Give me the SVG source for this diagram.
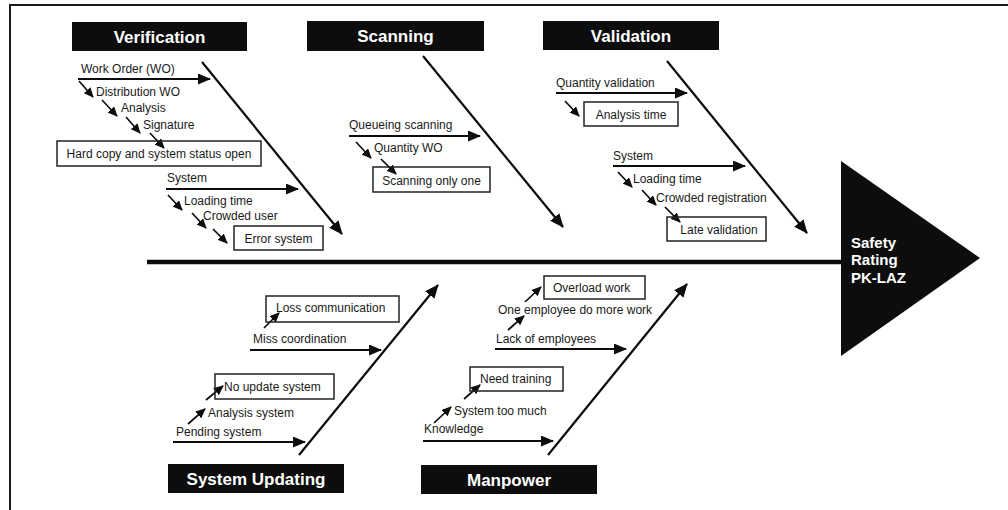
<svg xmlns="http://www.w3.org/2000/svg" width="1008" height="510" viewBox="0 0 1008 510">
<defs>
<style>
.hdr{fill:#0d0d0d}
.ht{font-family:"Liberation Sans",Arial,sans-serif;font-weight:bold;font-size:17px;fill:#fff;text-anchor:middle}
.t{font-family:"Liberation Sans",Arial,sans-serif;font-size:12px;fill:#1a1a1a}
.bt{font-family:"Liberation Sans",Arial,sans-serif;font-size:12px;fill:#1a1a1a;text-anchor:middle}
.box{fill:none;stroke:#222;stroke-width:1.5}
.bone{stroke:#0d0d0d;stroke-width:2.2;fill:none;marker-end:url(#big)}
.sub{stroke:#0d0d0d;stroke-width:2;fill:none;marker-end:url(#mid)}
.tw{stroke:#0d0d0d;stroke-width:1.7;fill:none;marker-end:url(#sm)}
.ft{font-family:"Liberation Sans",Arial,sans-serif;font-weight:bold;font-size:15px;fill:#fff}
</style>
<marker id="big" markerUnits="userSpaceOnUse" markerWidth="14" markerHeight="12" refX="13" refY="6" orient="auto"><path d="M0,0 L14,6 L0,12 z" fill="#0d0d0d"/></marker>
<marker id="mid" markerUnits="userSpaceOnUse" markerWidth="13" markerHeight="11" refX="12" refY="5.5" orient="auto"><path d="M0,0 L13,5.5 L0,11 z" fill="#0d0d0d"/></marker>
<marker id="sm" markerUnits="userSpaceOnUse" markerWidth="10" markerHeight="9" refX="9" refY="4.5" orient="auto"><path d="M0,0 L10,4.5 L0,9 z" fill="#0d0d0d"/></marker>
</defs>
<rect x="0" y="0" width="1008" height="510" fill="#fff"/>
<rect x="10" y="5" width="1010" height="520" fill="none" stroke="#1a1a1a" stroke-width="2"/>

<g id="connectors">
<line x1="147" y1="262" x2="845" y2="262" stroke="#0d0d0d" stroke-width="4.5"/>
<line class="bone" x1="202" y1="62" x2="342" y2="234"/>
<line class="bone" x1="423" y1="56" x2="563" y2="227"/>
<line class="bone" x1="667" y1="61" x2="807" y2="233"/>
<line class="bone" x1="299" y1="455" x2="438" y2="285"/>
<line class="bone" x1="548" y1="455" x2="687" y2="284"/>
<!-- Verification -->
<line class="sub" x1="78" y1="79" x2="210" y2="79"/>
<line class="tw" x1="79" y1="81" x2="93" y2="97"/>
<line class="tw" x1="102" y1="100" x2="117" y2="116"/>
<line class="tw" x1="126" y1="117" x2="140" y2="133"/>
<line class="tw" x1="150" y1="133" x2="164" y2="148"/>
<line class="sub" x1="166" y1="189" x2="298" y2="189"/>
<line class="tw" x1="168" y1="195" x2="182" y2="210"/>
<line class="tw" x1="192" y1="213" x2="206" y2="228"/>
<line class="tw" x1="213" y1="229" x2="227" y2="243"/>
<!-- Scanning -->
<line class="sub" x1="349" y1="136" x2="480" y2="136"/>
<line class="tw" x1="356" y1="142" x2="371" y2="158"/>
<line class="tw" x1="381" y1="159" x2="396" y2="174"/>
<!-- Validation -->
<line class="sub" x1="556" y1="93" x2="687" y2="93"/>
<line class="tw" x1="565" y1="101" x2="579" y2="116"/>
<line class="sub" x1="613" y1="166" x2="745" y2="166"/>
<line class="tw" x1="618" y1="172" x2="632" y2="187"/>
<line class="tw" x1="642" y1="190" x2="656" y2="205"/>
<line class="tw" x1="665" y1="207" x2="680" y2="222"/>
<!-- System Updating -->
<line class="tw" x1="264" y1="328" x2="279" y2="313"/>
<line class="sub" x1="250" y1="350" x2="381" y2="350"/>
<line class="tw" x1="206" y1="400" x2="223" y2="386"/>
<line class="tw" x1="188" y1="424" x2="205" y2="409"/>
<line class="sub" x1="173" y1="442" x2="305" y2="442"/>
<!-- Manpower -->
<line class="tw" x1="525" y1="302" x2="541" y2="287"/>
<line class="tw" x1="508" y1="330" x2="524" y2="316"/>
<line class="sub" x1="495" y1="349" x2="626" y2="349"/>
<line class="tw" x1="464" y1="399" x2="480" y2="385"/>
<line class="tw" x1="434" y1="423" x2="451" y2="407"/>
<line class="sub" x1="423" y1="441" x2="553" y2="441"/>
</g>

<g id="head-safety">
<path d="M841,161 L980,258 L841,356 Z" fill="#0d0d0d"/>
<text class="ft" x="851" y="248">Safety</text>
<text class="ft" x="851" y="265">Rating</text>
<text class="ft" x="851" y="283">PK-LAZ</text>
</g>

<g id="cat-verification"><rect class="hdr" x="72" y="22" width="175" height="29"/><text class="ht" x="159.5" y="42.5">Verification</text></g>
<g id="cat-scanning"><rect class="hdr" x="307" y="21" width="177" height="30"/><text class="ht" x="395.5" y="42">Scanning</text></g>
<g id="cat-validation"><rect class="hdr" x="543" y="21" width="176" height="29"/><text class="ht" x="631" y="41.5">Validation</text></g>
<g id="cat-system-updating"><rect class="hdr" x="168" y="464" width="176" height="29"/><text class="ht" x="256" y="484.5">System Updating</text></g>
<g id="cat-manpower"><rect class="hdr" x="421" y="465" width="176" height="29"/><text class="ht" x="509" y="485.5">Manpower</text></g>

<g id="verification-causes">
<text class="t" x="81" y="73">Work Order (WO)</text>
<text class="t" x="96" y="96">Distribution WO</text>
<text class="t" x="121" y="112">Analysis</text>
<text class="t" x="143" y="129">Signature</text>
<g id="box-hard-copy"><rect class="box" x="57" y="141" width="204" height="25"/><text class="bt" x="159" y="158">Hard copy and system status open</text></g>
<text class="t" x="167" y="182">System</text>
<text class="t" x="184" y="205">Loading time</text>
<text class="t" x="203" y="220">Crowded user</text>
<g id="box-error-system"><rect class="box" x="234" y="226" width="89" height="24"/><text class="bt" x="278.5" y="243">Error system</text></g>
</g>

<g id="scanning-causes">
<text class="t" x="349" y="129">Queueing scanning</text>
<text class="t" x="374" y="152">Quantity WO</text>
<g id="box-scanning-only-one"><rect class="box" x="373" y="167" width="117" height="25"/><text class="bt" x="431.5" y="184.5">Scanning only one</text></g>
</g>

<g id="validation-causes">
<text class="t" x="556" y="87">Quantity validation</text>
<g id="box-analysis-time"><rect class="box" x="584" y="102" width="94" height="24"/><text class="bt" x="631" y="119">Analysis time</text></g>
<text class="t" x="613" y="160">System</text>
<text class="t" x="633" y="183">Loading time</text>
<text class="t" x="656" y="202">Crowded registration</text>
<g id="box-late-validation"><rect class="box" x="667" y="217" width="99" height="24"/><text class="bt" x="719" y="234">Late validation</text></g>
</g>

<g id="system-updating-causes">
<g id="box-loss-communication"><rect class="box" x="266" y="296" width="133" height="26"/><text class="t" x="276" y="312">Loss communication</text></g>
<text class="t" x="253" y="343">Miss coordination</text>
<g id="box-no-update-system"><rect class="box" x="215" y="374" width="119" height="25"/><text class="t" x="224" y="391">No update system</text></g>
<text class="t" x="208" y="417">Analysis system</text>
<text class="t" x="176" y="436">Pending system</text>
</g>

<g id="manpower-causes">
<g id="box-overload-work"><rect class="box" x="544" y="276" width="101" height="23"/><text class="t" x="553" y="292">Overload work</text></g>
<text class="t" x="498" y="314">One employee do more work</text>
<text class="t" x="496" y="343">Lack of employees</text>
<g id="box-need-training"><rect class="box" x="470" y="367" width="93" height="24"/><text class="t" x="480" y="383">Need training</text></g>
<text class="t" x="454" y="415">System too much</text>
<text class="t" x="424" y="433">Knowledge</text>
</g>
</svg>
